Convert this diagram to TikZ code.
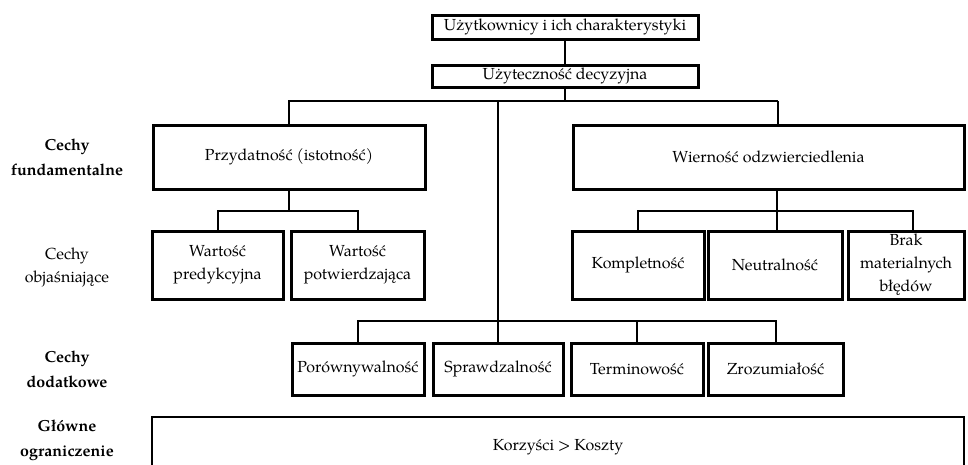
\documentclass[tikz,border=0pt]{standalone}
\usepackage{fontspec}
\setmainfont{TeX Gyre Pagella}
\begin{document}
\begin{tikzpicture}[x=1pt,y=-1pt,
  font=\fontsize{16}{23}\selectfont,
  box/.style={draw, line width=3pt, inner sep=0pt, align=center},
  conn/.style={line width=2pt},
  lab/.style={align=center, inner sep=0pt}]
\useasboundingbox (0,0) rectangle (968,464);
\fill[white] (0,0) rectangle (968,464);
% top
\node[box, minimum width=266pt, minimum height=24pt] (u1) at (565,27) {Użytkownicy i ich charakterystyki};
\node[box, minimum width=266pt, minimum height=22pt] (u2) at (565,76) {Użyteczność decyzyjna};
% fundamental
\node[box, minimum width=272pt, minimum height=64pt] (przyd) at (289,157) {Przydatność (istotność)};
\node[box, minimum width=391pt, minimum height=64pt] (wier) at (768.5,157) {Wierność odzwierciedlenia};
% explanatory
\node[box, minimum width=131pt, minimum height=68pt] (wp) at (217.5,265) {Wartość\\predykcyjna};
\node[box, minimum width=133pt, minimum height=68pt] (wpot) at (357.5,265) {Wartość\\potwierdzająca};
\node[box, minimum width=132pt, minimum height=68pt] (kom) at (638,265) {Kompletność};
\node[box, minimum width=134pt, minimum height=68pt] (neu) at (775,265) {Neutralność};
\node[box, minimum width=116pt, minimum height=68pt] (brak) at (906,265) {Brak\\materialnych\\błędów};
% additional
\node[box, minimum width=132pt, minimum height=52pt] (por) at (358,369) {Porównywalność};
\node[box, minimum width=130pt, minimum height=52pt] (spr) at (498,369) {Sprawdzalność};
\node[box, minimum width=132pt, minimum height=52pt] (ter) at (637,369) {Terminowość};
\node[box, minimum width=135pt, minimum height=52pt] (zro) at (775.5,369) {Zrozumiałość};
% constraint
\node[box, line width=2.4pt, minimum width=812pt, minimum height=60pt] (kor) at (558,447) {Korzyści > Koszty};
% left labels
\node[lab, font=\fontsize{16}{25}\selectfont\bfseries] (l1) at (67,157) {Cechy\\fundamentalne};
\node[lab, font=\fontsize{16}{23}\selectfont] (l2) at (67,267) {Cechy\\objaśniające};
\node[lab, font=\fontsize{16}{25}\selectfont\bfseries] (l3) at (67,369) {Cechy\\dodatkowe};
\node[lab, font=\fontsize{16}{25}\selectfont\bfseries] (l4) at (67,440) {Główne\\ograniczenie};
% connectors
\draw[conn] (u1.south) -- (u2.north);
\coordinate (j1) at (565,101);
\coordinate (jw) at (778,101);
\draw[conn] (u2.south) -- (j1);
\draw[conn] (przyd.north) |- (jw);
\draw[conn] (jw) -- (jw |- wier.north);
\draw[conn] (spr.north |- j1) -- (spr.north);
\coordinate (jl) at (289,211);
\draw[conn] (przyd.south) -- (jl);
\draw[conn] (wp.north) |- (jl) -| (wpot.north);
\coordinate (jr) at (777,211);
\draw[conn] (jr |- wier.south) -- (jr |- neu.north);
\coordinate (jb) at (913,211);
\draw[conn] (kom.north) |- (jr) -- (jb) -- (jb |- brak.north);
\coordinate (j3) at (499,321);
\draw[conn] (por.north) |- (j3) -| (zro.north);
\draw[conn] (ter.north) -- (ter.north |- j3);
\end{tikzpicture}
\end{document}
